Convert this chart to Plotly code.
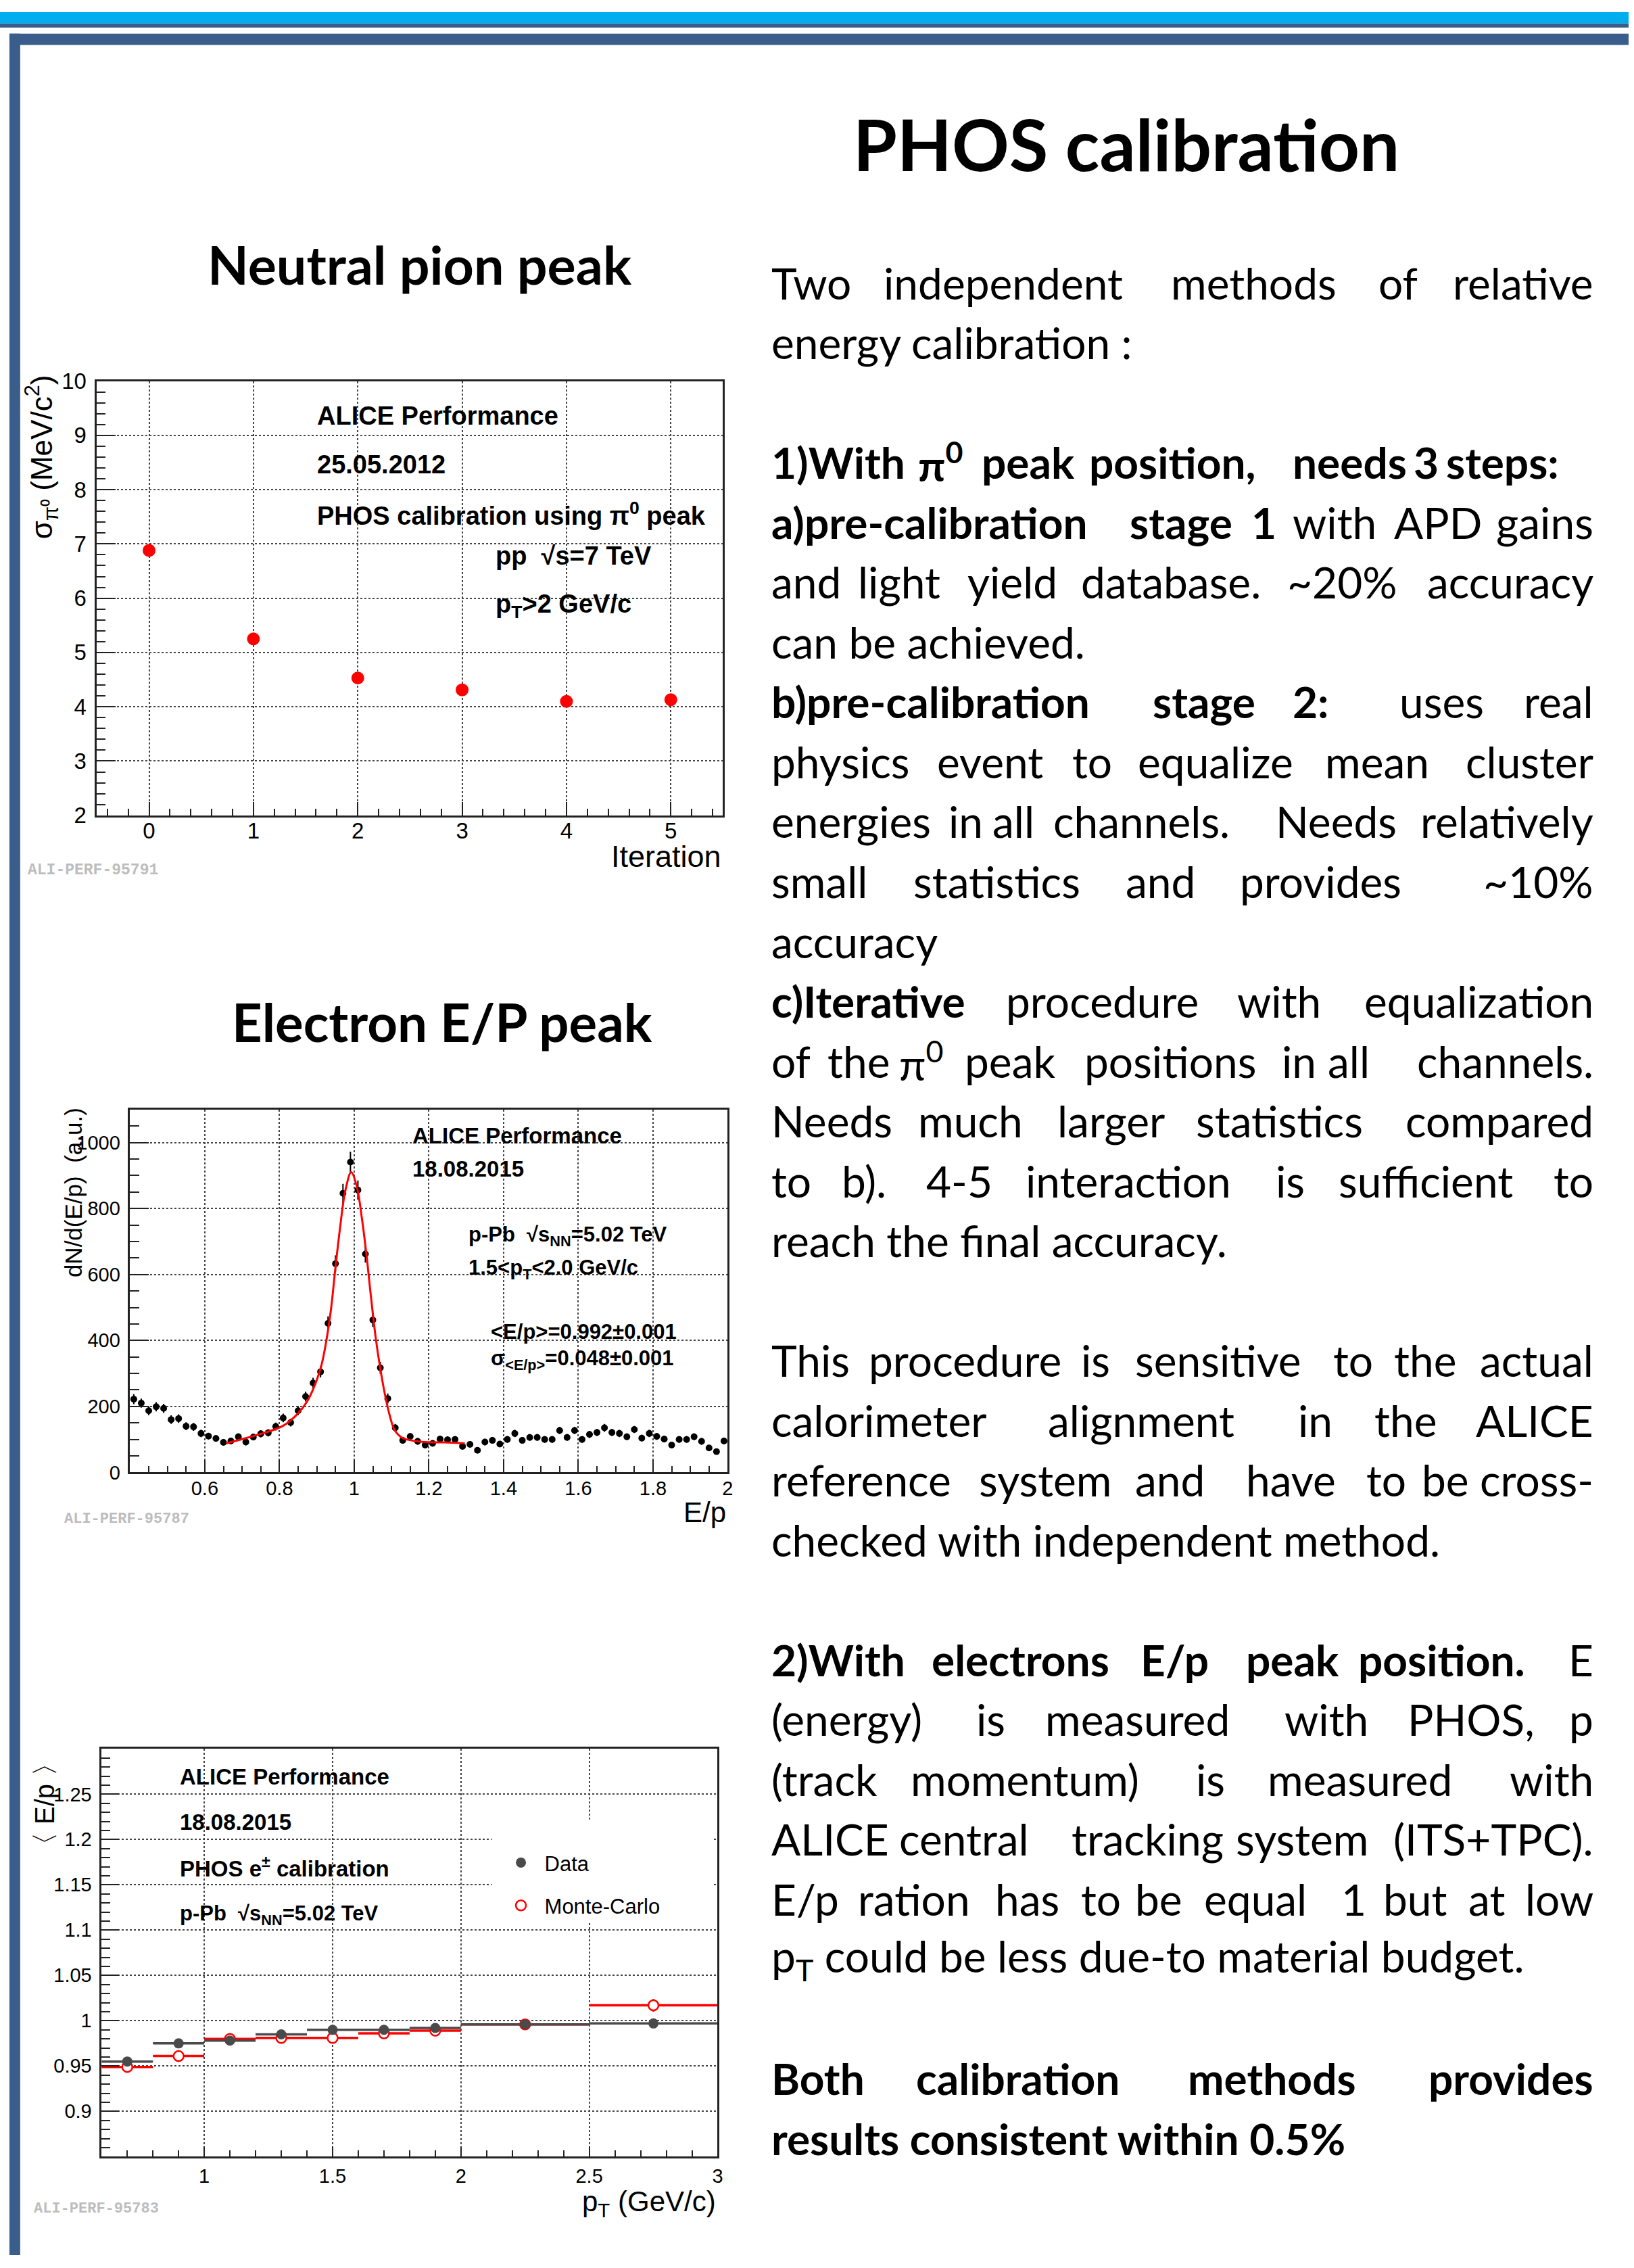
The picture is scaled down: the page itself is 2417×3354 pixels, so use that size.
import plotly.graph_objects as go

W, H = 2417, 3354

# ---------------- data ----------------
# Plot 1: pi0 peak width vs calibration iteration
iteration = [0, 1, 2, 3, 4, 5]
sigma_pi0 = [6.88, 5.25, 4.53, 4.31, 4.10, 4.13]

# Plot 2: E/p distribution (bin centres, counts, errors) and fit curve
ep_bins = [0.41, 0.43, 0.45, 0.47, 0.49, 0.51, 0.53, 0.55, 0.57, 0.59,
           0.61, 0.63, 0.65, 0.67, 0.69, 0.71, 0.73, 0.75, 0.77, 0.79,
           0.81, 0.83, 0.85, 0.87, 0.89, 0.91, 0.93, 0.95, 0.97, 0.99,
           1.01, 1.03, 1.05, 1.07, 1.09, 1.11, 1.13, 1.15, 1.17, 1.19,
           1.21, 1.23, 1.25, 1.27, 1.29, 1.31, 1.33, 1.35, 1.37, 1.39,
           1.41, 1.43, 1.45, 1.47, 1.49, 1.51, 1.53, 1.55, 1.57, 1.59,
           1.61, 1.63, 1.65, 1.67, 1.69, 1.71, 1.73, 1.75, 1.77, 1.79,
           1.81, 1.83, 1.85, 1.87, 1.89, 1.91, 1.93, 1.95, 1.97, 1.99]
ep_counts = [222, 210, 187, 199, 194, 160, 163, 140, 138, 118,
             110, 103, 91, 95, 108, 92, 107, 117, 120, 139,
             165, 151, 187, 230, 271, 305, 452, 633, 846, 941,
             856, 662, 462, 317, 224, 135, 97, 109, 94, 83,
             88, 101, 99, 100, 79, 85, 67, 92, 97, 86,
             100, 118, 97, 106, 106, 100, 100, 127, 106, 127,
             100, 115, 121, 135, 121, 118, 108, 130, 104, 118,
             109, 101, 83, 100, 100, 108, 94, 74, 63, 95]
ep_errors = [15, 14, 14, 14, 14, 13, 13, 12, 12, 11,
             10, 10, 10, 10, 10, 10, 10, 11, 11, 12,
             13, 12, 14, 15, 16, 17, 21, 25, 29, 31,
             29, 26, 21, 18, 15, 12, 10, 10, 10, 9,
             9, 10, 10, 10, 9, 9, 8, 10, 10, 9,
             10, 11, 10, 10, 10, 10, 10, 11, 10, 11,
             10, 11, 11, 12, 11, 11, 10, 11, 10, 11,
             10, 10, 9, 10, 10, 10, 10, 9, 8, 10]
fit_x = [0.657, 0.71, 0.76, 0.811, 0.849, 0.874, 0.893, 0.912, 0.925, 0.938,
         0.95, 0.963, 0.976, 0.992, 1.007, 1.02, 1.033, 1.045, 1.058, 1.07,
         1.083, 1.096, 1.108, 1.127, 1.153, 1.191, 1.241, 1.296]
fit_y = [88, 104, 120, 142, 178, 215, 260, 323, 396, 495,
         622, 749, 852, 910, 867, 776, 659, 532, 405, 314,
         233, 169, 129, 106, 97, 92, 91, 88]

# Plot 3: <E/p> vs pT
pt_centers = [0.7, 0.9, 1.1, 1.3, 1.5, 1.7, 1.9, 2.25, 2.75]
pt_halfwidth = [0.1, 0.1, 0.1, 0.1, 0.1, 0.1, 0.1, 0.25, 0.25]
data_ep = [0.955, 0.975, 0.978, 0.985, 0.990, 0.990, 0.992, 0.996, 0.997]
data_err = [0.002, 0.001, 0.001, 0.001, 0.001, 0.001, 0.002, 0.002, 0.002]
mc_ep = [0.949, 0.961, 0.980, 0.981, 0.981, 0.986, 0.989, 0.996, 1.017]
mc_err = [0.001, 0.001, 0.002, 0.002, 0.002, 0.002, 0.003, 0.002, 0.007]

# tick labels
t1_x = [0, 1, 2, 3, 4, 5]
t1_y = [2, 3, 4, 5, 6, 7, 8, 9, 10]
t2_x = [0.6, 0.8, 1.0, 1.2, 1.4, 1.6, 1.8, 2.0]
t2_xlab = ["0.6", "0.8", "1", "1.2", "1.4", "1.6", "1.8", "2"]
t2_y = [0, 200, 400, 600, 800, 1000]
t3_x = [1, 1.5, 2, 2.5, 3]
t3_xlab = ["1", "1.5", "2", "2.5", "3"]
t3_y = [0.9, 0.95, 1.0, 1.05, 1.1, 1.15, 1.2, 1.25]
t3_ylab = ["0.9", "0.95", "1", "1.05", "1.1", "1.15", "1.2", "1.25"]

# ---------------- helpers ----------------
def px(x):
    return x / W


def py(y):
    return 1 - y / H


ROOT = "Liberation Sans, Arial, Helvetica, sans-serif"
BODY = "Lato, Carlito, Calibri, 'Open Sans', sans-serif"
MONO = "Liberation Mono, Courier New, monospace"

fig = go.Figure()

# ---------------- traces ----------------
fig.add_trace(go.Scatter(x=iteration, y=sigma_pi0, mode="markers",
                         marker=dict(color="#ff0000", size=19),
                         xaxis="x", yaxis="y", showlegend=False))

fig.add_trace(go.Scatter(x=ep_bins, y=ep_counts, mode="markers",
                         marker=dict(color="black", size=10),
                         error_y=dict(type="data", array=ep_errors, color="black",
                                      thickness=2, width=0),
                         xaxis="x2", yaxis="y2", showlegend=False))
fig.add_trace(go.Scatter(x=fit_x, y=fit_y, mode="lines",
                         line=dict(color="#ff0000", width=3, shape="spline"),
                         xaxis="x2", yaxis="y2", showlegend=False))

fig.add_trace(go.Scatter(x=pt_centers, y=mc_ep, mode="markers", name="Monte-Carlo",
                         marker=dict(color="white", size=15, symbol="circle",
                                     line=dict(color="#ff0000", width=2.5)),
                         error_x=dict(type="data", array=pt_halfwidth, color="#ff0000",
                                      thickness=3.5, width=0),
                         error_y=dict(type="data", array=mc_err, color="#ff0000",
                                      thickness=3, width=0),
                         xaxis="x3", yaxis="y3", legendgroup="mc", legendrank=2))
fig.add_trace(go.Scatter(x=pt_centers, y=data_ep, mode="markers", name="Data",
                         marker=dict(color="#4a4a4a", size=15, symbol="circle"),
                         error_x=dict(type="data", array=pt_halfwidth, color="#4a4a4a",
                                      thickness=3.5, width=0),
                         error_y=dict(type="data", array=data_err, color="#4a4a4a",
                                      thickness=3, width=0),
                         xaxis="x3", yaxis="y3", legendgroup="data", legendrank=1))


# ---------------- axes ----------------
def ax(domain, rng, vals, text, ticklen, mlen, mdtick, mtick0, fsize, anchor, standoff):
    d = dict(domain=domain, range=rng, anchor=anchor,
             tickmode="array", tickvals=vals,
             showline=True, linecolor="#222222", linewidth=2.5, mirror=True,
             showgrid=True, gridcolor="#444444", griddash="dot", gridwidth=1.5,
             zeroline=False, ticks="inside", ticklen=ticklen, tickwidth=2,
             tickcolor="#222222", ticklabelstandoff=standoff,
             tickfont=dict(family=ROOT, size=fsize, color="black"),
             minor=dict(ticks="inside", ticklen=mlen, tickwidth=2, tickcolor="#222222",
                        dtick=mdtick, tick0=mtick0, showgrid=False))
    if text is not None:
        d["ticktext"] = text
    return d


p1x = [px(143.8), px(1073)]
p1y = [py(1201), py(551.6)]
p2x = [px(193), px(1080)]
p2y = [py(2183.5), py(1641)]
p3x = [px(150.8), px(1065)]
p3y = [py(3206.7), py(2597)]

fig.update_layout(
    xaxis=ax(p1x, [-0.5, 5.5], t1_x, [str(v) for v in t1_x], 20, 10, 0.2, 0, 33, "y", -8),
    yaxis=ax(p1y, [2, 10], t1_y, [str(v) for v in t1_y], 28, 13, 0.2, 2, 33, "x", 6),
    xaxis2=ax(p2x, [0.4, 2.0], t2_x, t2_xlab, 19, 10, 0.05, 0.4, 29, "y2", -4),
    yaxis2=ax(p2y, [0, 1100], t2_y, [str(v) for v in t2_y], 28, 14, 50, 0, 29, "x2", 6),
    xaxis3=ax(p3x, [0.6, 3.0], t3_x, t3_xlab, 16, 10, 0.1, 0.6, 29, "y3", 1),
    yaxis3=ax(p3y, [0.85, 1.30], t3_y, t3_ylab, 26, 13, 0.01, 0.85, 29, "x3", 6),
)

# ---------------- annotations ----------------
def txt(x, y, s, size, family, anchor="left", color="black", yanchor="middle", angle=0):
    fig.add_annotation(x=px(x), y=py(y), xref="paper", yref="paper", text=s,
                       showarrow=False, xanchor=anchor, yanchor=yanchor,
                       textangle=angle, font=dict(size=size, family=family, color=color))


# headings
txt(1264, 196, "<b>PHOS calibration</b>", 105, BODY)
txt(306, 377, "<b>Neutral pion peak</b>", 79, BODY)
txt(342, 1510, "<b>Electron E/P peak</b>", 78, BODY)

# plot 1 texts
txt(469, 604, "<b>ALICE Performance</b>", 38, ROOT)
txt(469, 676, "<b>25.05.2012</b>", 38, ROOT)
txt(469, 750, "<b>PHOS calibration using π<sup>0</sup> peak</b>", 38, ROOT)
txt(733, 813, "<b>pp  √s=7 TeV</b>", 38, ROOT)
txt(733, 888, "<b>p<sub>T</sub>>2 GeV/c</b>", 38, ROOT)
txt(62, 540, "σ<sub>π⁰</sub> (MeV/c<sup>2</sup>)", 44, ROOT, anchor="center", yanchor="top", angle=-90)
txt(1073, 1262, "Iteration", 45, ROOT, anchor="right")
txt(39, 1283, "<b>ALI-PERF-95791</b>", 23, MONO, color="#bdbdbd")

# plot 2 texts
txt(610, 1680, "<b>ALICE Performance</b>", 33, ROOT)
txt(610, 1730, "<b>18.08.2015</b>", 33, ROOT)
txt(693, 1830, "<b>p-Pb  √s<sub>NN</sub>=5.02 TeV</b>", 31, ROOT)
txt(693, 1880, "<b>1.5&lt;p<sub>T</sub>&lt;2.0 GeV/c</b>", 31, ROOT)
txt(726, 1973, "<b>&lt;E/p&gt;=0.992±0.001</b>", 31, ROOT)
txt(726, 2015, "<b>σ<sub>&lt;E/p&gt;</sub>=0.048±0.001</b>", 31, ROOT)
txt(109, 1636, "dN/d(E/p)  (a.u.)", 35, ROOT, anchor="center", yanchor="top", angle=-90)
txt(1080, 2243, "E/p", 42, ROOT, anchor="right")
txt(93, 2253, "<b>ALI-PERF-95787</b>", 22, MONO, color="#bdbdbd")

# plot 3 texts
txt(265, 2639, "<b>ALICE Performance</b>", 33, ROOT)
txt(265, 2706, "<b>18.08.2015</b>", 33, ROOT)
txt(265, 2774, "<b>PHOS e<sup>±</sup> calibration</b>", 33, ROOT)
txt(265, 2845, "<b>p-Pb  √s<sub>NN</sub>=5.02 TeV</b>", 31, ROOT)
txt(67, 2596, "〈 E/p 〉", 40, ROOT, anchor="center", yanchor="top", angle=-90)
txt(1065, 3277, "p<sub>T</sub> (GeV/c)", 42, ROOT, anchor="right")
txt(48, 3285, "<b>ALI-PERF-95783</b>", 22, MONO, color="#bdbdbd")

# body text of the poster (x positions of words, line index)
RIGHT = 2367
BODY_LINES = [
    (0, True, [(1143, "Two"), (1309, "independent"), (1736, "methods"), (2044, "of"), (2144, "relative")]),
    (1, False, [(1143, "energy calibration :")]),
    (3, False, [(1143, "<b>1)With</b>"), (1361, "<b>π<sup>0</sup></b>"), (1455, "<b>peak</b>"),
                (1614, "<b>position,</b>"), (1916, "<b>needs</b>"), (2096, "<b>3</b>"), (2144, "<b>steps:</b>")]),
    (4, True, [(1143, "<b>a)pre-calibration</b>"), (1675, "<b>stage</b>"), (1855, "<b>1</b>"),
               (1916, "with"), (2067, "APD"), (2214, "gains")]),
    (5, True, [(1143, "and"), (1271, "light"), (1434, "yield"), (1602, "database."), (1908, "~20%"),
               (2108, "accuracy")]),
    (6, False, [(1143, "can be achieved.")]),
    (7, True, [(1143, "<b>b)pre-calibration</b>"), (1709, "<b>stage</b>"), (1916, "<b>2:</b>"),
               (2075, "uses"), (2251, "real")]),
    (8, True, [(1143, "physics"), (1389, "event"), (1589, "to"), (1687, "equalize"), (1965, "mean"),
               (2136, "cluster")]),
    (9, True, [(1143, "energies"), (1406, "in"), (1471, "all"), (1561, "channels."), (1891, "Needs"),
               (2079, "relatively")]),
    (10, True, [(1143, "small"), (1353, "statistics"), (1669, "and"), (1838, "provides"), (2202, "~10%")]),
    (11, False, [(1143, "accuracy")]),
    (12, True, [(1143, "<b>c)Iterative</b>"), (1491, "procedure"), (1834, "with"), (2002, "equalization")]),
    (13, True, [(1143, "of"), (1226, "the"), (1332, "π<sup>0</sup>"), (1430, "peak"), (1607, "positions"),
                (1900, "in"), (1969, "all"), (2083, "channels.")]),
    (14, True, [(1143, "Needs"), (1361, "much"), (1567, "larger"), (1773, "statistics"), (2059, "compared")]),
    (15, True, [(1143, "to"), (1247, "b)."), (1373, "4-5"), (1520, "interaction"), (1891, "is"),
                (1985, "sufficient"), (2295, "to")]),
    (16, False, [(1143, "reach the final accuracy.")]),
    (18, True, [(1143, "This"), (1287, "procedure"), (1602, "is"), (1683, "sensitive"), (1977, "to"),
                (2067, "the"), (2189, "actual")]),
    (19, True, [(1143, "calorimeter"), (1553, "alignment"), (1924, "in"), (2038, "the"), (2202, "ALICE")]),
    (20, True, [(1143, "reference"), (1451, "system"), (1683, "and"), (1847, "have"), (2026, "to"),
                (2108, "be"), (2202, "cross-")]),
    (21, False, [(1143, "checked with independent method.")]),
    (23, True, [(1143, "<b>2)With</b>"), (1381, "<b>electrons</b>"), (1691, "<b>E/p</b>"), (1847, "<b>peak</b>"),
                (2014, "<b>position.</b>"), (2336, "E")]),
    (24, True, [(1143, "(energy)"), (1447, "is"), (1549, "measured"), (1904, "with"), (2087, "PHOS,"),
                (2328, "p")]),
    (25, True, [(1143, "(track"), (1349, "momentum)"), (1773, "is"), (1879, "measured"), (2238, "with")]),
    (26, True, [(1143, "ALICE"), (1332, "central"), (1588, "tracking"), (1832, "system"), (2067, "(ITS+TPC).")]),
    (27, True, [(1143, "E/p"), (1271, "ration"), (1475, "has"), (1602, "to"), (1683, "be"), (1785, "equal"),
                (1989, "1"), (2051, "but"), (2177, "at"), (2255, "low")]),
    (28, False, [(1143, "p<sub>T</sub> could be less due-to material budget.")]),
    (30, True, [(1143, "<b>Both</b>"), (1357, "<b>calibration</b>"), (1761, "<b>methods</b>"),
                (2104, "<b>provides</b>")]),
    (31, False, [(1143, "<b>results consistent within 0.5%</b>")]),
]
BODY_SIZE = 64
for idx, just, words in BODY_LINES:
    base = 429.6 + 89.5 * idx
    yc = base - 0.387 * BODY_SIZE
    for k, (x, w) in enumerate(words):
        if just and k == len(words) - 1 and len(words) > 1:
            txt(RIGHT, yc, w, BODY_SIZE, BODY, anchor="right")
        else:
            txt(x, yc, w, BODY_SIZE, BODY)

# ---------------- poster frame & legend box ----------------
shapes = [
    dict(type="rect", xref="paper", yref="paper", x0=0, x1=1, y0=py(17), y1=1,
         fillcolor="#00aeef", line=dict(width=0), layer="above"),
    dict(type="rect", xref="paper", yref="paper", x0=0, x1=1, y0=py(23), y1=py(17),
         fillcolor="#3a5e8c", line=dict(width=0), layer="above"),
    dict(type="rect", xref="paper", yref="paper", x0=px(14), x1=1, y0=py(49), y1=py(32),
         fillcolor="#3a5e8c", line=dict(width=0), layer="above"),
    dict(type="rect", xref="paper", yref="paper", x0=px(14), x1=px(30), y0=0, y1=py(32),
         fillcolor="#3a5e8c", line=dict(width=0), layer="above"),
    dict(type="rect", xref="x3", yref="y3", x0=2.12, x1=2.984, y0=1.108, y1=1.222,
         fillcolor="white", line=dict(width=0), layer="between"),
]

fig.update_layout(
    width=W, height=H, margin=dict(l=0, r=0, t=0, b=0),
    paper_bgcolor="white", plot_bgcolor="white",
    shapes=shapes,
    showlegend=True,
    legend=dict(x=px(738), y=py(2740), xanchor="left", yanchor="top",
                bgcolor="rgba(0,0,0,0)", font=dict(family=ROOT, size=31, color="black"),
                tracegroupgap=20, itemsizing="trace", itemwidth=60),
)

fig.write_html("out.html")
